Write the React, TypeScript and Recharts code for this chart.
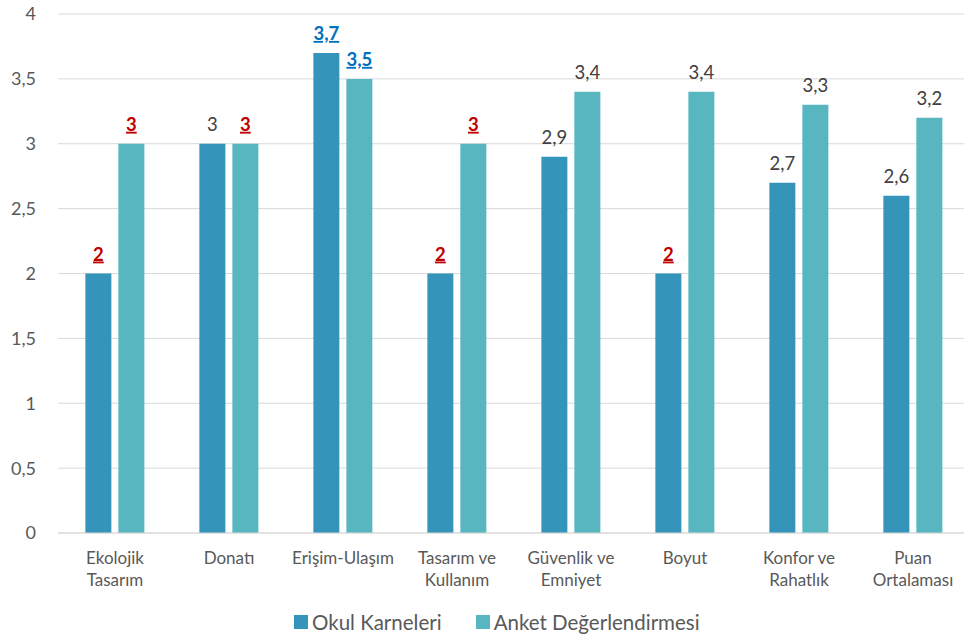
import { BarChart, Bar, XAxis, YAxis, CartesianGrid, Legend, LabelList } from 'recharts';

const categories = [
  'Ekolojik\nTasarım',
  'Donatı',
  'Erişim-Ulaşım',
  'Tasarım ve\nKullanım',
  'Güvenlik ve\nEmniyet',
  'Boyut',
  'Konfor ve\nRahatlık',
  'Puan\nOrtalaması',
];
const okulKarneleri = [2, 3, 3.7, 2, 2.9, 2, 2.7, 2.6];
const anketDegerlendirmesi = [3, 3, 3.5, 3, 3.4, 3.4, 3.3, 3.2];
// label emphasis per bar: red/blue = bold + underlined
const okulVurgu = ['red', 'none', 'blue', 'red', 'none', 'red', 'none', 'none'];
const anketVurgu = ['red', 'red', 'blue', 'red', 'none', 'none', 'none', 'none'];
const yTicks = [0, 0.5, 1, 1.5, 2, 2.5, 3, 3.5, 4];

const data = categories.map((c, i) => ({
  name: c,
  okul: okulKarneleri[i],
  anket: anketDegerlendirmesi[i],
}));

const FONT = 'Lato, "Open Sans", sans-serif';
const OKUL = '#3494BA';
const ANKET = '#58B6C0';
const vurguRenk: Record<string, string> = { red: '#C00000', blue: '#0070C0', none: '#404040' };

const fmt = (v: number) => String(v).replace('.', ',');

const makeLabel = (vurgu: string[]) => (props: any) => {
  const { x, y, width, value, index } = props;
  const v = vurgu[index] ?? 'none';
  const strong = v !== 'none';
  return (
    <text
      x={Number(x) + Number(width) / 2}
      y={Number(y) - 13}
      textAnchor="middle"
      fontFamily={FONT}
      fontSize={18.5}
      fontWeight={strong ? 700 : 400}
      fill={vurguRenk[v]}
      style={strong ? { textDecoration: 'underline' } : undefined}
    >
      {fmt(value)}
    </text>
  );
};

function CategoryTick({ x, y, payload }: any) {
  const lines = String(payload.value).split('\n');
  return (
    <text x={x} y={y} textAnchor="middle" fontFamily={FONT} fontSize={17} fill="#595959">
      {lines.map((l, i) => (
        <tspan key={i} x={x} dy={i === 0 ? 23 : 22}>
          {l}
        </tspan>
      ))}
    </text>
  );
}

function LegendContent() {
  const items = [
    { label: 'Okul Karneleri', color: OKUL },
    { label: 'Anket Değerlendirmesi', color: ANKET },
  ];
  return (
    <div style={{ display: 'flex', alignItems: 'center', gap: 34, height: 30, fontFamily: FONT, fontSize: 20.5, color: '#595959' }}>
      {items.map(it => (
        <div key={it.label} style={{ display: 'flex', alignItems: 'center' }}>
          <span style={{ width: 14, height: 14, background: it.color, marginRight: 4, display: 'inline-block' }} />
          <span>{it.label}</span>
        </div>
      ))}
    </div>
  );
}

export default function App() {
  return (
    <div style={{ position: 'absolute', left: 0, top: 0, width: 964, height: 641, overflow: 'hidden', background: '#fff' }}>
      <BarChart
        width={972}
        height={641}
        data={data}
        margin={{ top: 14, right: 2, left: 0, bottom: 4 }}
        barCategoryGap="24%"
        barGap={7}
      >
        <CartesianGrid vertical={false} stroke="#D9D9D9" />
        <XAxis
          dataKey="name"
          interval={0}
          height={74}
          tickLine={false}
          axisLine={{ stroke: '#D9D9D9' }}
          tick={<CategoryTick />}
        />
        <YAxis
          width={58}
          domain={[0, 4]}
          ticks={yTicks}
          axisLine={false}
          tickLine={false}
          tickMargin={16}
          tickFormatter={fmt}
          tick={{ fill: '#595959', fontSize: 18, fontFamily: FONT }}
        />
        <Legend
          verticalAlign="bottom"
          content={<LegendContent />}
          wrapperStyle={{ left: 294, width: 'auto' }}
        />
        <Bar dataKey="okul" name="Okul Karneleri" fill={OKUL} isAnimationActive={false}>
          <LabelList dataKey="okul" content={makeLabel(okulVurgu)} />
        </Bar>
        <Bar dataKey="anket" name="Anket Değerlendirmesi" fill={ANKET} isAnimationActive={false}>
          <LabelList dataKey="anket" content={makeLabel(anketVurgu)} />
        </Bar>
      </BarChart>
    </div>
  );
}
